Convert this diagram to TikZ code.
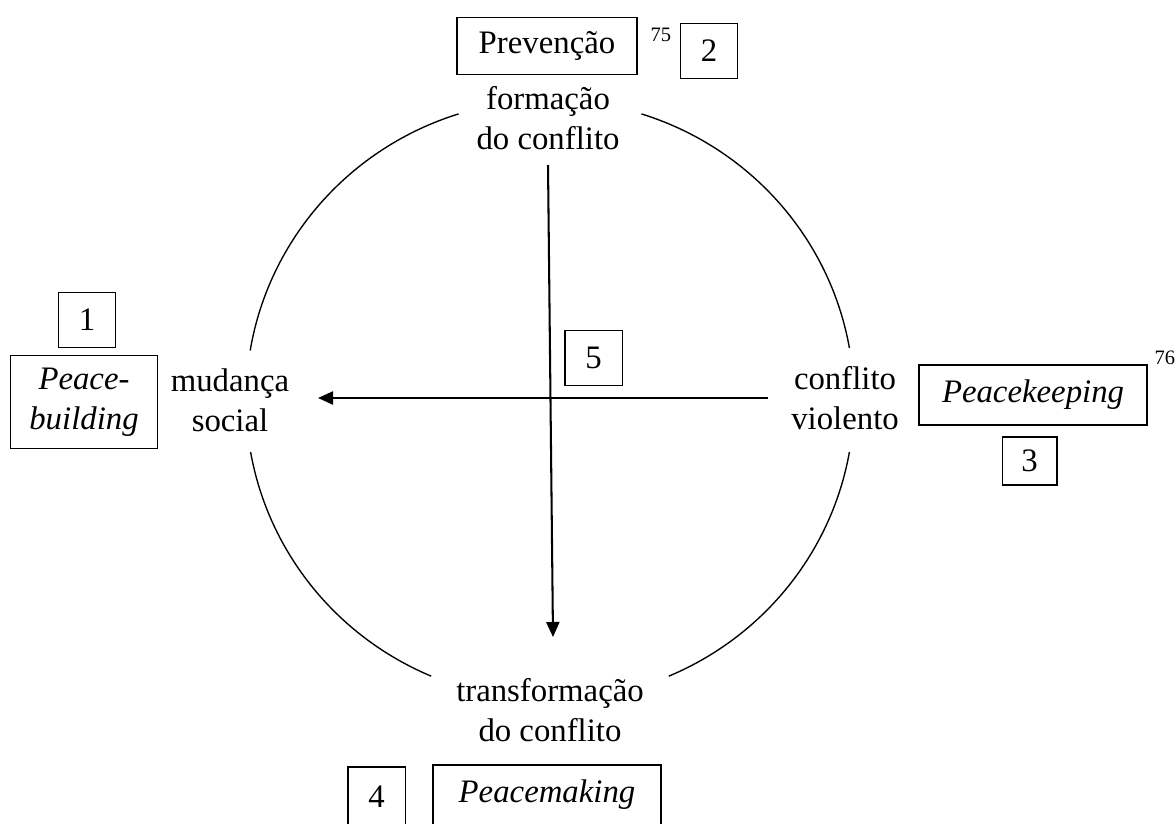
\documentclass[tikz,border=0pt]{standalone}
\usepackage{fontspec}
\setmainfont{Liberation Serif}
\usetikzlibrary{arrows.meta}
\begin{document}
\begin{tikzpicture}[x=0.366pt,y=-0.366pt,
			txt/.style={font=\fontsize{12}{14.6}\selectfont,align=center},
			box/.style={draw,line width=0.5pt,inner sep=0pt,txt},
			numbox/.style={box,minimum width=21pt,minimum height=20pt},
			itbox/.style={box,font=\fontsize{12}{14.6}\selectfont\itshape},
			note/.style={font=\fontsize{7.5}{9}\selectfont,inner sep=0pt,anchor=west},
			flow/.style={line width=0.75pt,-{Triangle[length=5.5pt,width=4.8pt]}},
			ring/.style={line width=0.5pt,x radius=304,y radius=300}]
			\useasboundingbox (0,0) rectangle (1176,823);
			\clip (0,0) rectangle (1176,823);
			% the cycle
			\coordinate (c) at (550,400);
			\draw[ring] (c) ++(-107.5:304 and 300) arc[start angle=-107.5,end angle=-170.5];
			\draw[ring] (c) ++(170:304 and 300) arc[start angle=170,end angle=113];
			\draw[ring] (c) ++(67:304 and 300) arc[start angle=67,end angle=10];
			\draw[ring] (c) ++(-10:304 and 300) arc[start angle=-10,end angle=-72.5];
			% stages
			\node[txt] (form) at (548,118) {formação\\do conflito};
			\node[txt] (viol) at (845,398) {conflito\\violento};
			\node[txt] (trans) at (550,710) {transformação\\do conflito};
			\node[txt] (soc) at (230,400) {mudança\\social};
			% boxes
			\node[box,minimum width=66pt,minimum height=21pt] (prev) at (547,46) {Prevenção};
			\node[note] (n75) at (650,35) {75};
			\node[numbox] (two) at (709,51) {2};
			\node[numbox] (one) at (87,320) {1};
			\node[itbox,minimum width=54pt,minimum height=34pt] (build) at (84,402) {Peace-\\building};
			\node[itbox,minimum width=83.5pt,minimum height=22pt] (keep) at (1033,395) {Peacekeeping};
			\node[note] (n76) at (1154,358) {76};
			\node[numbox,minimum width=20pt,minimum height=17.6pt] (three) at (1029.5,461) {3};
			\node[numbox,minimum height=22pt] (four) at (376.5,797) {4};
			\node[itbox,minimum width=83.5pt,minimum height=22pt] (make) at (547,795) {Peacemaking};
			\node[numbox] (five) at (593.5,358) {5};
			% arrows
			\coordinate (vtop) at (548,165);
			\coordinate (vbot) at (553,637);
			\coordinate (hright) at (768,398);
			\coordinate (hleft) at (318,398);
			\draw[flow] (vtop) -- (vbot);
			\draw[flow] (hright) -- (hleft);
		\end{tikzpicture}
\end{document}
